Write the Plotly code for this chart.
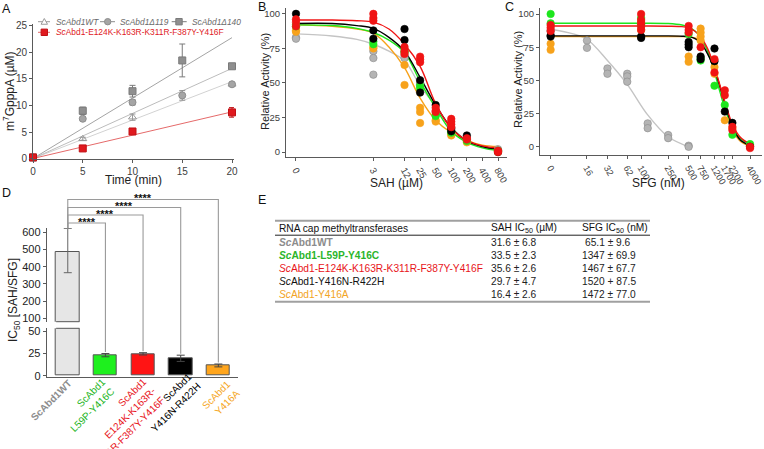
import plotly.graph_objects as go

W, H = 764, 449
FONT = "Liberation Sans, Arial, Helvetica, sans-serif"


def X(px):
    return px / W


def Y(py):
    return 1 - py / H


# ---------------- colours ----------------
C_GREEN = "#1de61d"
C_RED = "#f01414"
C_BLACK = "#000000"
C_ORANGE = "#f7a21b"

# ---------------- Panel A data ----------------
a_time_wt = [0, 5, 10, 20]
a_wt = [0.2, 3.7, 7.8, 14.0]
a_wt_err = [0, 0.3, 0.6, 0.3]
a_time = [0, 5, 10, 15, 20]
a_d119 = [0.2, 7.5, 10.6, 11.9, 14.0]
a_d119_err = [0, 0.3, 0.5, 0.9, 0.4]
a_d140 = [0.2, 9.0, 12.7, 18.5, 17.4]
a_d140_err = [0, 0.7, 1.1, 3.1, 0.3]
a_time_mut = [0, 5, 10, 20]
a_mut = [0.2, 1.9, 5.1, 8.7]
a_mut_err = [0, 0.2, 0.3, 0.9]
a_fit_t = [0, 20]
a_fit_wt = [0, 14.5]
a_fit_d119 = [0, 17.0]
a_fit_d140 = [0, 22.8]
a_fit_mut = [0, 8.8]
a_xticks = [0, 5, 10, 15, 20]
a_yticks = [0, 5, 10, 15, 20, 25]
a_legend_names = ["<i>ScAbd1WT</i>", "<i>ScAbd1Δ119</i>", "<i>ScAbd1Δ140</i>",
                  "<i>Sc</i>Abd1-E124K-K163R-K311R-F387Y-Y416F"]

# ---------------- Panel B data (SAH, µM) ----------------
SAH_ZERO = 0.1  # where the "0" dose is drawn on the log axis
b_tickvals = [0.1, 3.125, 12.5, 25, 50, 100, 200, 400, 800]
b_ticktext = ["0", "3", "12", "25", "50", "100", "200", "400", "800"]
b_gray_x = [0, 0, 3.125, 3.125, 3.125, 12.5, 12.5, 25, 25, 50, 100, 100, 200, 200, 800, 800]
b_gray_y = [83, 82, 73, 68, 56, 70, 68, 50, 49, 29, 18, 16, 10, 9, 1, 2]
b_orange_x = [0, 0, 3.125, 3.125, 12.5, 12.5, 25, 25, 25, 50, 50, 100, 100, 200, 800]
b_orange_y = [88, 87, 76, 75, 63, 48.5, 32, 29, 21, 23, 22, 13, 12, 7, 0]
b_green_x = [0, 0, 3.125, 3.125, 12.5, 12.5, 25, 25, 50, 50, 100, 100, 200, 800, 800]
b_green_y = [92, 91, 80, 78, 73, 72, 48, 46, 27, 26, 15, 14, 8, 0.5, 1]
b_black_x = [0, 3.125, 3.125, 12.5, 12.5, 25, 25, 50, 100, 100, 200, 800]
b_black_y = [100, 88, 82, 89, 81, 52, 43, 34, 17, 15, 12, 0]
b_red_x = [0, 0, 0, 3.125, 3.125, 3.125, 12.5, 12.5, 12.5, 25, 25, 25, 50, 50, 50,
           100, 100, 100, 100, 200, 200, 800, 800, 800]
b_red_y = [96, 94, 91, 100, 97, 95, 76, 73, 71, 69, 67, 65, 32, 30, 29,
           24, 22, 20, 18, 10, 9, 1, 0, 0.5]
b_curve_x = [0.1, 0.5, 1.5, 3.125, 6.25, 12.5, 25, 50, 100, 200, 400, 800]
b_curve_gray = [85.5, 84, 81.5, 78, 73, 66, 48, 33, 18, 8.5, 4, 2]
b_curve_orange = [92, 91, 89, 86, 76, 61, 39, 23, 14, 8.5, 5, 4]
b_curve_green = [92, 91.5, 89.5, 86.5, 81, 72, 51, 32, 15, 7, 3, 1]
b_curve_black = [93, 93, 91.5, 89.5, 83, 73, 54, 34, 17.5, 8, 4, 2]
b_curve_red = [95.5, 95.5, 95, 94, 89, 78, 62, 35, 17, 8.5, 4.5, 3]

# ---------------- Panel C data (SFG, nM) ----------------
SFG_ZERO = 4.67
c_tickvals = [4.67, 16, 32, 62.5, 100, 250, 500, 750, 1200, 1700, 2200, 4000]
c_ticktext = ["0", "16", "32", "62", "100", "250", "500", "750", "1200", "1700", "2200", "4000"]
c_gray_x = [0, 0, 16, 16, 32, 32, 62.5, 62.5, 62.5, 125, 125, 250, 250, 500, 500]
c_gray_y = [88, 87, 80, 74.5, 59, 55, 55, 53, 49, 17.6, 14, 8.8, 6.5, 0.8, 0]
c_orange_x = [0, 0, 100, 100, 500, 500, 750, 750, 750, 750, 1200, 1200, 1700, 2200, 4000]
c_orange_y = [77.6, 73, 94, 88, 68, 64, 89, 86, 83, 80, 60, 55, 20, 14, 1]
c_green_x = [0, 0, 100, 100, 500, 750, 750, 1200, 1700, 2200, 4000]
c_green_y = [100, 93, 97, 92, 85, 67, 65, 46, 31.5, 9, 2]
c_black_x = [0, 0, 100, 100, 500, 500, 500, 750, 750, 1200, 1200, 1700, 2200, 4000]
c_black_y = [84, 83, 82, 83, 79, 77, 75, 68, 66, 74, 64.5, 26.5, 18, 0]
c_red_x = [0, 0, 0, 100, 100, 100, 100, 100, 500, 500, 500, 750, 1200, 1200,
           1700, 1700, 2200, 2200, 4000, 4000]
c_red_y = [91.7, 89.7, 87.2, 100, 95.5, 93, 90.5, 88, 91, 88, 86, 75, 66, 56,
           42.5, 38.8, 15, 12.6, 0, -1]
c_gray_curve_x = [4.67, 10, 16, 32, 62.5, 125, 250, 500]
c_gray_curve_y = [88.5, 85, 81, 65, 47, 24, 7.5, 0]
c_curve_x = [4.67, 100, 250, 400, 500, 620, 750, 950, 1200, 1450, 1700, 2200, 2900, 4000]
c_curve_orange = [83, 83, 83, 83, 82.8, 82, 80, 73, 60, 45, 32, 13, 4, 0.5]
c_curve_green = [93, 93, 92.8, 91.7, 90.2, 87.2, 82.4, 72, 56, 41, 29, 14.3, 6, 2]
c_curve_black = [83.5, 83.5, 83.5, 83.3, 83, 81.5, 78.5, 70, 58, 45, 33, 15, 5, 1]
c_curve_red = [91, 91, 90.8, 90.5, 89.5, 87, 83, 74, 60, 46, 34, 17, 7, 2]

# ---------------- Panel D data ----------------
d_names = ["ScAbd1WT", "ScAbd1<br>L59P-Y416C", "ScAbd1<br>E124K-K163R-<br>K311R-F387Y-Y416F",
           "ScAbd1<br>Y416N-R422H", "ScAbd1<br>Y416A"]
d_label_colors = ["#8c8c8c", "#22b422", "#e8151b", "#000000", "#f5a623"]
d_ic50 = [487, 23, 24.5, 19.5, 11.5]
d_err_plus = [136, 1.8, 1.3, 3.5, 1.6]
d_err_minus = [122, 1.8, 1.3, 3.5, 1.6]
d_bar_colors = ["#e6e6e6", "#1ef01e", "#ff1414", "#000000", "#ffa51c"]
d_sig = ["****", "****", "****", "****"]
d_upper_ticks = [100, 200, 300, 400, 500, 600]
d_lower_ticks = [0, 25, 50]

# ---------------- Panel E table ----------------
e_header = ["RNA cap methyltransferases", "SAH IC<sub>50</sub> (µM)", "SFG IC<sub>50</sub> (nM)"]
e_names = ["<b><i>Sc</i>Abd1WT</b>", "<b><i>Sc</i>Abd1-L59P-Y416C</b>",
           "<i>Sc</i>Abd1-E124K-K163R-K311R-F387Y-Y416F", "<i>Sc</i>Abd1-Y416N-R422H",
           "<i>Sc</i>Abd1-Y416A"]
e_colors = ["#8c8c8c", "#2bb52b", "#e8151b", "#111111", "#f2a425"]
e_sah = ["31.6 ± 6.8", "33.5 ± 2.3", "35.6 ± 2.6", "29.7 ± 4.7", "16.4 ± 2.6"]
e_sfg = ["65.1 ± 9.6", "1347 ± 69.9", "1467 ± 67.7", "1520 + 87.5", "1472 ± 77.0"]

fig = go.Figure()

# ---------- Panel A ----------
for fy_, col in [(a_fit_wt, "#d2d2d2"), (a_fit_d119, "#bcbcbc"), (a_fit_d140, "#a4a4a4"), (a_fit_mut, "#e56a6a")]:
    fig.add_trace(go.Scatter(x=a_fit_t, y=fy_, mode="lines", line=dict(color=col, width=1),
                             xaxis="x", yaxis="y", showlegend=False, hoverinfo="skip"))


def a_pts(x, y, err, sym, fill, edge):
    fig.add_trace(go.Scatter(
        x=x, y=y, mode="markers", cliponaxis=False,
        marker=dict(symbol=sym, size=7, color=fill, line=dict(color=edge, width=1)),
        error_y=dict(type="data", array=err, color=edge, thickness=1, width=3),
        xaxis="x", yaxis="y", showlegend=False))


a_pts(a_time_wt, a_wt, a_wt_err, "triangle-up-open", "#9a9a9a", "#9a9a9a")
a_pts(a_time, a_d119, a_d119_err, "circle", "#a5a5a5", "#8d8d8d")
a_pts(a_time, a_d140, a_d140_err, "square", "#8f8f8f", "#7a7a7a")
a_pts(a_time_mut, a_mut, a_mut_err, "square", "#e0191e", "#c01015")


# ---------- Panel B ----------
def zpos(xs, z):
    return [z if v == 0 else v for v in xs]


for cy, col in [(b_curve_gray, "#c4c4c4"), (b_curve_orange, C_ORANGE), (b_curve_green, C_GREEN),
                (b_curve_black, C_BLACK), (b_curve_red, C_RED)]:
    fig.add_trace(go.Scatter(x=b_curve_x, y=cy, mode="lines", line=dict(color=col, width=1.4, shape="spline"),
                             xaxis="x2", yaxis="y2", showlegend=False, hoverinfo="skip"))
for bx, by, col, edge in [(b_gray_x, b_gray_y, "#b4b4b4", "#8a8a8a"), (b_orange_x, b_orange_y, C_ORANGE, C_ORANGE),
                          (b_green_x, b_green_y, C_GREEN, C_GREEN), (b_black_x, b_black_y, C_BLACK, C_BLACK),
                          (b_red_x, b_red_y, C_RED, C_RED)]:
    fig.add_trace(go.Scatter(x=zpos(bx, SAH_ZERO), y=by, mode="markers", cliponaxis=False,
                             marker=dict(size=7.5, color=col, line=dict(color=edge, width=0.6)),
                             xaxis="x2", yaxis="y2", showlegend=False))

# ---------- Panel C ----------
fig.add_trace(go.Scatter(x=c_gray_curve_x, y=c_gray_curve_y, mode="lines",
                         line=dict(color="#c4c4c4", width=1.4, shape="spline"),
                         xaxis="x3", yaxis="y3", showlegend=False, hoverinfo="skip"))
for cy, col in [(c_curve_orange, C_ORANGE), (c_curve_green, C_GREEN), (c_curve_black, C_BLACK), (c_curve_red, C_RED)]:
    fig.add_trace(go.Scatter(x=c_curve_x, y=cy, mode="lines", line=dict(color=col, width=1.4, shape="spline", smoothing=0.8),
                             xaxis="x3", yaxis="y3", showlegend=False, hoverinfo="skip"))
for cx, cyy, col, edge in [(c_gray_x, c_gray_y, "#b4b4b4", "#8a8a8a"), (c_orange_x, c_orange_y, C_ORANGE, C_ORANGE),
                           (c_green_x, c_green_y, C_GREEN, C_GREEN), (c_black_x, c_black_y, C_BLACK, C_BLACK),
                           (c_red_x, c_red_y, C_RED, C_RED)]:
    fig.add_trace(go.Scatter(x=zpos(cx, SFG_ZERO), y=cyy, mode="markers", cliponaxis=False,
                             marker=dict(size=7.5, color=col, line=dict(color=edge, width=0.6)),
                             xaxis="x3", yaxis="y3", showlegend=False))

# ---------- Panel D ----------
d_idx = list(range(len(d_ic50)))
BAR_W = 0.62
fig.add_trace(go.Bar(x=d_idx, y=d_ic50, width=BAR_W, marker=dict(color=d_bar_colors, line=dict(color="#555555", width=1)),
                     error_y=dict(type="data", array=d_err_plus, arrayminus=d_err_minus, color="#444444",
                                  thickness=1, width=4),
                     xaxis="x4", yaxis="y4", showlegend=False))
fig.add_trace(go.Bar(x=d_idx[:1], y=d_ic50[:1], width=BAR_W,
                     marker=dict(color=d_bar_colors[:1], line=dict(color="#555555", width=1)),
                     error_y=dict(type="data", array=d_err_plus[:1], arrayminus=d_err_minus[:1], color="#666666",
                                  thickness=1, width=4),
                     xaxis="x4", yaxis="y5", showlegend=False))

# ---------- axes ----------
TICKFONT = dict(family=FONT, size=10, color="#404040")
base = dict(showgrid=False, zeroline=False, showline=True, linecolor="#5a5a5a", linewidth=1,
            ticks="outside", ticklen=3, tickcolor="#5a5a5a", tickfont=TICKFONT, automargin=False,
            ticklabeloverflow="allow")

D_XR = [-0.56, 4.53]
D_XPX = [46.7, 238.3]
D_LOW_R = [-1.1, 53.1]
D_LOW_PX = [376.7, 328.3]
D_UP_R = [80, 625]
D_UP_PX = [321.7, 228.0]

fig.update_layout(
    width=W, height=H, margin=dict(l=0, r=0, t=0, b=0, autoexpand=False),
    paper_bgcolor="white", plot_bgcolor="white",
    font=dict(family=FONT, size=10, color="#333333"), showlegend=False, bargap=0,
    xaxis=dict(base, domain=[X(33), X(234)], range=[0, 20.2], tickvals=a_xticks, anchor="y"),
    yaxis=dict(base, domain=[Y(158.5), Y(24.4)], range=[0, 25.3], tickvals=a_yticks, anchor="x"),
    xaxis2=dict(base, type="log", domain=[X(286), X(507)], range=[-1.193, 3.077], tickvals=b_tickvals,
                ticktext=b_ticktext, tickangle=60, anchor="y2", tickfont=dict(TICKFONT, size=9.5)),
    yaxis2=dict(base, domain=[Y(157), Y(8.3)], range=[-3.6, 104], tickvals=[0, 25, 50, 75, 100], anchor="x2",
                tickfont=dict(TICKFONT, size=9.5)),
    xaxis3=dict(base, type="log", domain=[X(540), X(762)], range=[0.513, 3.778], tickvals=c_tickvals,
                ticktext=c_ticktext, tickangle=60, anchor="y3", tickfont=dict(TICKFONT, size=9.2)),
    yaxis3=dict(base, domain=[Y(155), Y(8.3)], range=[-6.2, 104.3], tickvals=[0, 25, 50, 75, 100], anchor="x3",
                tickfont=dict(TICKFONT, size=9.5)),
    xaxis4=dict(base, domain=[X(D_XPX[0]), X(D_XPX[1])], range=D_XR, tickvals=d_idx,
                showticklabels=False, ticks="", anchor="y4"),
    yaxis4=dict(base, domain=[Y(D_LOW_PX[0]), Y(D_LOW_PX[1])], range=D_LOW_R, tickvals=d_lower_ticks,
                anchor="x4", tickfont=dict(TICKFONT, size=11, color="#222")),
    yaxis5=dict(base, domain=[Y(D_UP_PX[0]), Y(D_UP_PX[1])], range=D_UP_R, tickvals=d_upper_ticks,
                anchor="x4", tickfont=dict(TICKFONT, size=11, color="#222")),
)


# ---------- helpers for panel D ----------
def d_x_px(i):
    return D_XPX[0] + (i - D_XR[0]) / (D_XR[1] - D_XR[0]) * (D_XPX[1] - D_XPX[0])


def d_low_py(v):
    return D_LOW_PX[0] + (v - D_LOW_R[0]) / (D_LOW_R[1] - D_LOW_R[0]) * (D_LOW_PX[1] - D_LOW_PX[0])


def d_up_py(v):
    return D_UP_PX[0] + (v - D_UP_R[0]) / (D_UP_R[1] - D_UP_R[0]) * (D_UP_PX[1] - D_UP_PX[0])


shapes = []
annotations = []

# closing edges of the broken WT bar
for py in [D_UP_PX[0], D_LOW_PX[1]]:
    shapes.append(dict(type="line", xref="paper", yref="paper",
                       x0=X(d_x_px(0 - BAR_W / 2)), x1=X(d_x_px(0 + BAR_W / 2)), y0=Y(py), y1=Y(py),
                       line=dict(color="#555555", width=1)))

bracket_py = [223, 215, 207.5, 199.5]
wt_top = d_up_py(d_ic50[0] + d_err_plus[0])
x0p = d_x_px(0)
for k, i in enumerate(range(1, 5)):
    yb = bracket_py[k]
    xi = d_x_px(i)
    bottom = d_low_py(d_ic50[i] + d_err_plus[i]) - 1.5
    path = "M %f,%f L %f,%f L %f,%f L %f,%f" % (X(x0p), Y(wt_top), X(x0p), Y(yb), X(xi), Y(yb), X(xi), Y(bottom))
    shapes.append(dict(type="path", xref="paper", yref="paper", path=path,
                       line=dict(color="#9a9a9a", width=1.1)))
    annotations.append(dict(text="<b>%s</b>" % d_sig[k], x=X((x0p + xi) / 2), y=Y(yb - 1.5), xref="paper", yref="paper",
                            showarrow=False, xanchor="center", yanchor="middle",
                            font=dict(family=FONT, size=11, color="#111")))

# rotated category labels (block centres, px; right-aligned lines)
d_label_pos = [(51, 400.5), (88, 405), (120.5, 422.5), (171, 403.2), (220, 399.5)]
for i, (n, c) in enumerate(zip(d_names, d_label_colors)):
    lx, ly = d_label_pos[i]
    annotations.append(dict(text=("<b>%s</b>" % n) if i == 0 else n, x=X(lx), y=Y(ly), xref="paper", yref="paper",
                            showarrow=False, xanchor="center", yanchor="middle", textangle=-45, align="right",
                            font=dict(family=FONT, size=10, color=c)))

# ---------- Panel A legend ----------
leg_items = [
    (38, 50, 44.3, 21.7, "triangle", "#9a9a9a", "white", 54.3, "#6a6a6a", "#9a9a9a"),
    (100, 115, 107.7, 21.7, "circle", "#8d8d8d", "#a5a5a5", 117.7, "#6a6a6a", "#8d8d8d"),
    (171.7, 186.7, 179, 21.7, "square", "#7a7a7a", "#8f8f8f", 190, "#6a6a6a", "#7a7a7a"),
    (38, 50, 44.3, 32.3, "square", "#c01015", "#e0191e", 54.3, "#e0191e", "#e56a6a"),
]
for k, (xa, xb, xm, yy, sym, edge, fill, xt, tcol, lcol) in enumerate(leg_items):
    shapes.append(dict(type="line", xref="paper", yref="paper", x0=X(xa), x1=X(xb), y0=Y(yy), y1=Y(yy),
                       line=dict(color=lcol, width=1)))
    r = 3.2
    if sym == "triangle":
        path = "M %f,%f L %f,%f L %f,%f Z" % (X(xm), Y(yy - r), X(xm - r), Y(yy + r * 0.8), X(xm + r), Y(yy + r * 0.8))
        shapes.append(dict(type="path", xref="paper", yref="paper", path=path, fillcolor=fill,
                           line=dict(color=edge, width=1)))
    elif sym == "circle":
        shapes.append(dict(type="circle", xref="paper", yref="paper", x0=X(xm - r), x1=X(xm + r),
                           y0=Y(yy + r), y1=Y(yy - r), fillcolor=fill, line=dict(color=edge, width=1)))
    else:
        shapes.append(dict(type="rect", xref="paper", yref="paper", x0=X(xm - r), x1=X(xm + r),
                           y0=Y(yy + r), y1=Y(yy - r), fillcolor=fill, line=dict(color=edge, width=1)))
    annotations.append(dict(text=a_legend_names[k], x=X(xt), y=Y(yy), xref="paper", yref="paper", showarrow=False,
                            xanchor="left", yanchor="middle", font=dict(family=FONT, size=8.4, color=tcol)))


# ---------- axis titles and panel letters ----------
def ann(text, xp, yp, size=12, angle=0, color="#222", xanchor="center"):
    annotations.append(dict(text=text, x=X(xp), y=Y(yp), xref="paper", yref="paper", showarrow=False,
                            xanchor=xanchor, yanchor="middle", textangle=angle,
                            font=dict(family=FONT, size=size, color=color)))


ann("Time (min)", 133.5, 180)
ann("m<sup>7</sup>GpppA (µM)", 9, 91, angle=-90)
ann("SAH (µM)", 396, 183)
ann("Relative Activity (%)", 265, 82, size=11, angle=-90)
ann("SFG (nM)", 658, 183)
ann("Relative Activity (%)", 518, 80, size=11, angle=-90)
ann("IC<sub>50</sub> [SAH/SFG]", 14, 300, angle=-90)
for letter, lx, ly in [("A", 7, 9), ("B", 262, 7), ("C", 510, 7), ("D", 7, 193), ("E", 262, 200)]:
    ann(letter, lx, ly, size=12.5, color="#111")

# ---------- Panel E table ----------
TX = [277, 489, 580]
HEADER_Y = 228.3
ROW_Y = [242.8, 255.6, 268.4, 281.4, 294.5]
shapes.append(dict(type="line", xref="paper", yref="paper", x0=X(275), x1=X(650), y0=Y(220.7), y1=Y(220.7),
                   line=dict(color="#a0a0a0", width=2)))
shapes.append(dict(type="line", xref="paper", yref="paper", x0=X(275), x1=X(650), y0=Y(235.2), y1=Y(235.2),
                   line=dict(color="#222222", width=1)))
shapes.append(dict(type="line", xref="paper", yref="paper", x0=X(275), x1=X(650), y0=Y(301.7), y1=Y(301.7),
                   line=dict(color="#a0a0a0", width=2)))
for j, h in enumerate(e_header):
    ann(h, TX[j], HEADER_Y, size=10.2, color="#111", xanchor="left")
for r in range(len(e_names)):
    ann(e_names[r], TX[0], ROW_Y[r], size=10.2, color=e_colors[r], xanchor="left")
    ann(e_sah[r], TX[1], ROW_Y[r], size=10.2, color="#222", xanchor="left")
    ann(e_sfg[r], TX[2] + (3 if r == 0 else 0), ROW_Y[r], size=10.2, color="#222", xanchor="left")

fig.update_layout(shapes=shapes, annotations=annotations)
fig.write_html("out.html")
